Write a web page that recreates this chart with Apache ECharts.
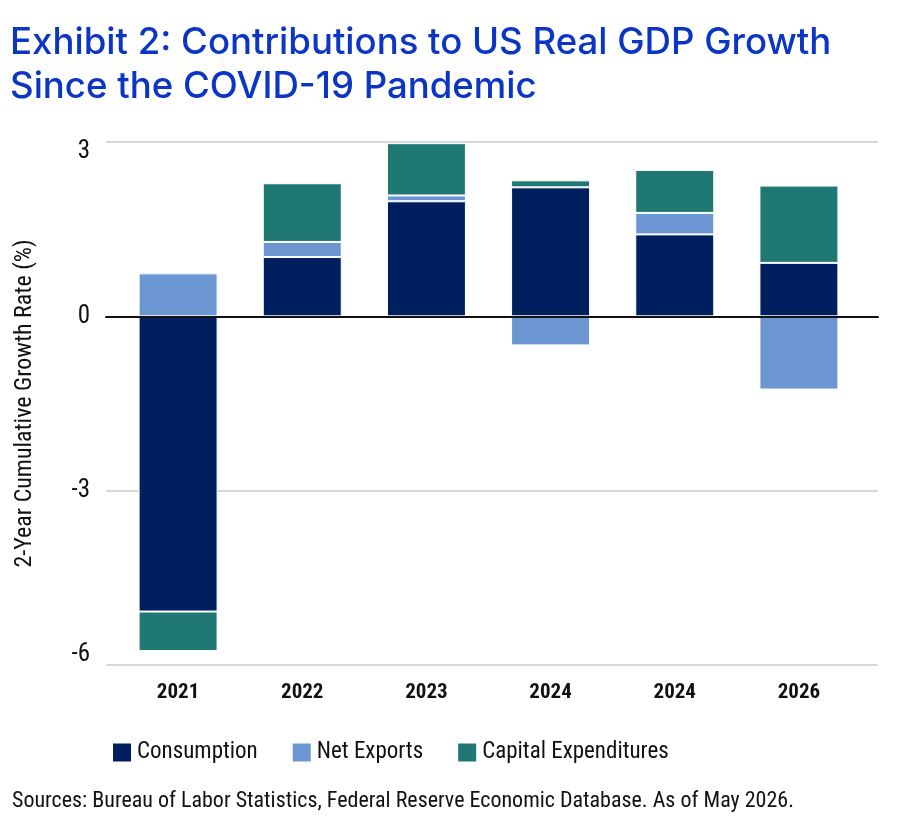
<!DOCTYPE html>
<html>
<head>
<meta charset="utf-8">
<script src="https://cdn.jsdelivr.net/npm/echarts@6/dist/echarts.min.js"></script>
<style>
  html, body { margin: 0; padding: 0; background: #fff; }
  #chart { width: 912px; height: 826px; }
</style>
</head>
<body>
<div id="chart"></div>
<script>
var years = ["2021", "2022", "2023", "2024", "2024", "2026"];
var consumption = [-5.08, 1.02, 1.98, 2.22, 1.41, 0.92];
var netExports = [0.74, 0.26, 0.10, -0.50, 0.37, -1.26];
var capex = [-0.68, 1.01, 0.90, 0.12, 0.74, 1.33];
var yTicks = [-6, -3, 0, 3];

var narrow = '"Liberation Sans Narrow", "Roboto Condensed", "DejaVu Sans Condensed", "Roboto", sans-serif';
var textColor = '#111';

var myChart = echarts.init(document.getElementById('chart'));

function barSeries(name, data, color) {
  return {
    name: name,
    type: 'bar',
    stack: 'gdp',
    xAxisIndex: 1,
    yAxisIndex: 1,
    barWidth: 79,
    data: data,
    itemStyle: {
      color: color,
      borderColor: '#fff',
      borderWidth: 1
    }
  };
}

var option = {
  backgroundColor: '#fff',
  animation: false,
  title: {
    text: 'Exhibit 2: Contributions to US Real GDP Growth\nSince the COVID-19 Pandemic',
    left: 5,
    top: 16,
    textStyle: {
      color: '#0b35c4',
      fontFamily: 'Inter, "Noto Sans", sans-serif',
      fontWeight: 500,
      fontSize: 36.6,
      lineHeight: 44
    }
  },
  legend: {
    left: 106,
    top: 736,
    icon: 'rect',
    itemWidth: 20,
    itemHeight: 20,
    itemGap: 33,
    textStyle: { color: textColor, fontFamily: narrow, fontSize: 23 },
    data: ['Consumption', 'Net Exports', 'Capital Expenditures']
  },
  graphic: [{
    type: 'text',
    left: 12,
    top: 790,
    style: {
      text: 'Sources: Bureau of Labor Statistics, Federal Reserve Economic Database. As of May 2026.',
      fill: textColor,
      font: '22px ' + narrow
    }
  }],
  grid: [
    { left: 106, right: 34, top: 142, bottom: 161 },
    { left: 116, right: 51, top: 142, bottom: 161 }
  ],
  xAxis: [{
    gridIndex: 0,
    type: 'value',
    min: 0,
    max: 1,
    z: 10,
    axisLine: { show: true, onZero: true, lineStyle: { color: '#111', width: 2 } },
    axisTick: { show: false },
    axisLabel: { show: false },
    splitLine: { show: false }
  }, {
    gridIndex: 1,
    type: 'category',
    data: years,
    axisLine: { show: false },
    axisTick: { show: false },
    axisLabel: {
      margin: 17,
      color: textColor,
      fontFamily: narrow,
      fontWeight: 'bold',
      fontSize: 21
    }
  }],
  yAxis: [{
    gridIndex: 0,
    type: 'value',
    min: yTicks[0],
    max: yTicks[yTicks.length - 1],
    interval: 3,
    name: '2-Year Cumulative Growth Rate (%)',
    nameLocation: 'middle',
    nameGap: 69,
    nameTextStyle: { color: textColor, fontFamily: narrow, fontSize: 24 },
    axisLine: { show: false },
    axisTick: { show: false },
    axisLabel: {
      margin: 16,
      color: textColor,
      fontFamily: narrow,
      fontSize: 25,
      formatter: function (v) {
        if (v === 3) return '{t|3}';
        if (v === -6) return '{b|-6}';
        return String(v);
      },
      rich: {
        t: { color: textColor, fontFamily: narrow, fontSize: 25, padding: [20, 0, 0, 0] },
        b: { color: textColor, fontFamily: narrow, fontSize: 25, padding: [0, 0, 20, 0] }
      }
    },
    splitLine: { show: true, lineStyle: { color: '#d6d6dc', width: 2 } }
  }, {
    gridIndex: 1,
    type: 'value',
    min: yTicks[0],
    max: yTicks[yTicks.length - 1],
    interval: 3,
    show: false,
    splitLine: { show: false }
  }],
  series: [
    barSeries('Consumption', consumption, '#001f5f'),
    barSeries('Net Exports', netExports, '#6b96d2'),
    barSeries('Capital Expenditures', capex, '#1f7872')
  ]
};

myChart.setOption(option);
</script>
</body>
</html>
